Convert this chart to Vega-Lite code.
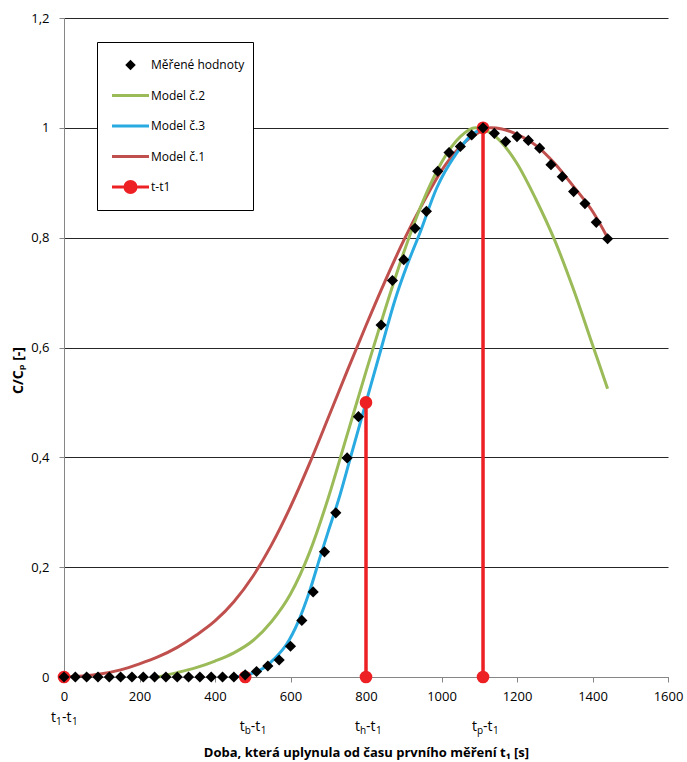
{
  "$schema": "https://vega.github.io/schema/vega-lite/v6.json",
  "width": 604,
  "height": 659,
  "autosize": {"type": "none"},
  "padding": {"left": 64, "top": 18, "right": 19, "bottom": 85},
  "config": {"view": {"stroke": null}, "font": "Open Sans", "text": {"font": "Open Sans"}},
  "datasets": {
    "models": [
      {"series": "Model č.1", "x": 0, "y": 0.0},
      {"series": "Model č.1", "x": 50, "y": 0.002},
      {"series": "Model č.1", "x": 100, "y": 0.006},
      {"series": "Model č.1", "x": 150, "y": 0.013},
      {"series": "Model č.1", "x": 200, "y": 0.024},
      {"series": "Model č.1", "x": 250, "y": 0.037},
      {"series": "Model č.1", "x": 300, "y": 0.054},
      {"series": "Model č.1", "x": 350, "y": 0.076},
      {"series": "Model č.1", "x": 400, "y": 0.102},
      {"series": "Model č.1", "x": 450, "y": 0.137},
      {"series": "Model č.1", "x": 500, "y": 0.183},
      {"series": "Model č.1", "x": 550, "y": 0.241},
      {"series": "Model č.1", "x": 600, "y": 0.31},
      {"series": "Model č.1", "x": 650, "y": 0.388},
      {"series": "Model č.1", "x": 700, "y": 0.472},
      {"series": "Model č.1", "x": 750, "y": 0.557},
      {"series": "Model č.1", "x": 800, "y": 0.64},
      {"series": "Model č.1", "x": 850, "y": 0.72},
      {"series": "Model č.1", "x": 900, "y": 0.795},
      {"series": "Model č.1", "x": 950, "y": 0.862},
      {"series": "Model č.1", "x": 1000, "y": 0.922},
      {"series": "Model č.1", "x": 1050, "y": 0.966},
      {"series": "Model č.1", "x": 1100, "y": 0.992},
      {"series": "Model č.1", "x": 1130, "y": 1.0},
      {"series": "Model č.1", "x": 1160, "y": 0.998},
      {"series": "Model č.1", "x": 1200, "y": 0.988},
      {"series": "Model č.1", "x": 1250, "y": 0.968},
      {"series": "Model č.1", "x": 1300, "y": 0.935},
      {"series": "Model č.1", "x": 1350, "y": 0.893},
      {"series": "Model č.1", "x": 1400, "y": 0.848},
      {"series": "Model č.1", "x": 1440, "y": 0.8},
      {"series": "Model č.2", "x": 250, "y": 0.0},
      {"series": "Model č.2", "x": 275, "y": 0.004},
      {"series": "Model č.2", "x": 300, "y": 0.008},
      {"series": "Model č.2", "x": 350, "y": 0.017},
      {"series": "Model č.2", "x": 400, "y": 0.029},
      {"series": "Model č.2", "x": 450, "y": 0.044},
      {"series": "Model č.2", "x": 500, "y": 0.066},
      {"series": "Model č.2", "x": 550, "y": 0.101},
      {"series": "Model č.2", "x": 600, "y": 0.151},
      {"series": "Model č.2", "x": 650, "y": 0.226},
      {"series": "Model č.2", "x": 700, "y": 0.326},
      {"series": "Model č.2", "x": 750, "y": 0.441},
      {"series": "Model č.2", "x": 800, "y": 0.556},
      {"series": "Model č.2", "x": 850, "y": 0.668},
      {"series": "Model č.2", "x": 900, "y": 0.773},
      {"series": "Model č.2", "x": 950, "y": 0.865},
      {"series": "Model č.2", "x": 1000, "y": 0.937},
      {"series": "Model č.2", "x": 1050, "y": 0.984},
      {"series": "Model č.2", "x": 1090, "y": 1.0},
      {"series": "Model č.2", "x": 1120, "y": 0.995},
      {"series": "Model č.2", "x": 1150, "y": 0.98},
      {"series": "Model č.2", "x": 1200, "y": 0.935},
      {"series": "Model č.2", "x": 1250, "y": 0.87},
      {"series": "Model č.2", "x": 1300, "y": 0.795},
      {"series": "Model č.2", "x": 1350, "y": 0.705},
      {"series": "Model č.2", "x": 1400, "y": 0.605},
      {"series": "Model č.2", "x": 1440, "y": 0.525},
      {"series": "Model č.3", "x": 440, "y": 0.0},
      {"series": "Model č.3", "x": 480, "y": 0.003},
      {"series": "Model č.3", "x": 500, "y": 0.007},
      {"series": "Model č.3", "x": 530, "y": 0.017},
      {"series": "Model č.3", "x": 560, "y": 0.035},
      {"series": "Model č.3", "x": 590, "y": 0.06},
      {"series": "Model č.3", "x": 620, "y": 0.1},
      {"series": "Model č.3", "x": 650, "y": 0.155},
      {"series": "Model č.3", "x": 680, "y": 0.222},
      {"series": "Model č.3", "x": 700, "y": 0.265},
      {"series": "Model č.3", "x": 727, "y": 0.322},
      {"series": "Model č.3", "x": 759, "y": 0.4},
      {"series": "Model č.3", "x": 800, "y": 0.5},
      {"series": "Model č.3", "x": 841, "y": 0.6},
      {"series": "Model č.3", "x": 877, "y": 0.687},
      {"series": "Model č.3", "x": 910, "y": 0.752},
      {"series": "Model č.3", "x": 943, "y": 0.809},
      {"series": "Model č.3", "x": 987, "y": 0.89},
      {"series": "Model č.3", "x": 1040, "y": 0.954},
      {"series": "Model č.3", "x": 1075, "y": 0.984},
      {"series": "Model č.3", "x": 1110, "y": 1.0}
    ],
    "red": [
      {"series": "t-t1", "grp": "a", "x": 0, "y": 0},
      {"series": "t-t1", "grp": "b", "x": 480, "y": 0},
      {"series": "t-t1", "grp": "c", "x": 800, "y": 0},
      {"series": "t-t1", "grp": "c", "x": 800, "y": 0.5},
      {"series": "t-t1", "grp": "d", "x": 1110, "y": 0},
      {"series": "t-t1", "grp": "d", "x": 1110, "y": 1.0}
    ],
    "measured": [
      {"series": "Měřené hodnoty", "x": 0, "y": 0},
      {"series": "Měřené hodnoty", "x": 30, "y": 0},
      {"series": "Měřené hodnoty", "x": 60, "y": 0},
      {"series": "Měřené hodnoty", "x": 90, "y": 0},
      {"series": "Měřené hodnoty", "x": 120, "y": 0},
      {"series": "Měřené hodnoty", "x": 150, "y": 0},
      {"series": "Měřené hodnoty", "x": 180, "y": 0},
      {"series": "Měřené hodnoty", "x": 210, "y": 0},
      {"series": "Měřené hodnoty", "x": 240, "y": 0},
      {"series": "Měřené hodnoty", "x": 270, "y": 0},
      {"series": "Měřené hodnoty", "x": 300, "y": 0},
      {"series": "Měřené hodnoty", "x": 330, "y": 0},
      {"series": "Měřené hodnoty", "x": 360, "y": 0},
      {"series": "Měřené hodnoty", "x": 390, "y": 0},
      {"series": "Měřené hodnoty", "x": 420, "y": 0},
      {"series": "Měřené hodnoty", "x": 450, "y": 0},
      {"series": "Měřené hodnoty", "x": 480, "y": 0.004},
      {"series": "Měřené hodnoty", "x": 510, "y": 0.01},
      {"series": "Měřené hodnoty", "x": 540, "y": 0.02},
      {"series": "Měřené hodnoty", "x": 570, "y": 0.031},
      {"series": "Měřené hodnoty", "x": 600, "y": 0.056},
      {"series": "Měřené hodnoty", "x": 630, "y": 0.103},
      {"series": "Měřené hodnoty", "x": 660, "y": 0.155},
      {"series": "Měřené hodnoty", "x": 690, "y": 0.228},
      {"series": "Měřené hodnoty", "x": 720, "y": 0.299},
      {"series": "Měřené hodnoty", "x": 750, "y": 0.399},
      {"series": "Měřené hodnoty", "x": 780, "y": 0.474},
      {"series": "Měřené hodnoty", "x": 840, "y": 0.641},
      {"series": "Měřené hodnoty", "x": 870, "y": 0.722},
      {"series": "Měřené hodnoty", "x": 900, "y": 0.76},
      {"series": "Měřené hodnoty", "x": 930, "y": 0.817},
      {"series": "Měřené hodnoty", "x": 960, "y": 0.848},
      {"series": "Měřené hodnoty", "x": 990, "y": 0.921},
      {"series": "Měřené hodnoty", "x": 1020, "y": 0.955},
      {"series": "Měřené hodnoty", "x": 1050, "y": 0.966},
      {"series": "Měřené hodnoty", "x": 1080, "y": 0.987},
      {"series": "Měřené hodnoty", "x": 1110, "y": 1.0},
      {"series": "Měřené hodnoty", "x": 1140, "y": 0.99},
      {"series": "Měřené hodnoty", "x": 1170, "y": 0.975},
      {"series": "Měřené hodnoty", "x": 1200, "y": 0.984},
      {"series": "Měřené hodnoty", "x": 1230, "y": 0.977},
      {"series": "Měřené hodnoty", "x": 1260, "y": 0.963},
      {"series": "Měřené hodnoty", "x": 1290, "y": 0.933},
      {"series": "Měřené hodnoty", "x": 1320, "y": 0.911},
      {"series": "Měřené hodnoty", "x": 1350, "y": 0.884},
      {"series": "Měřené hodnoty", "x": 1380, "y": 0.862},
      {"series": "Měřené hodnoty", "x": 1410, "y": 0.828},
      {"series": "Měřené hodnoty", "x": 1440, "y": 0.798}
    ],
    "lab1": [{"x": 0, "s": "1"}],
    "lab2": [{"x": 500, "s": "b"}, {"x": 805, "s": "h"}, {"x": 1115, "s": "p"}]
  },
  "layer": [
    {
      "data": {"name": "models"},
      "mark": {"type": "line", "strokeWidth": 3, "interpolate": "monotone"},
      "encoding": {
        "x": {
          "field": "x", "type": "quantitative",
          "scale": {"domain": [0, 1600], "nice": false, "zero": false},
          "axis": {
            "values": [0, 200, 400, 600, 800, 1000, 1200, 1400, 1600], "format": "d",
            "grid": false, "domainColor": "#868686", "tickColor": "#868686", "tickSize": 5,
            "labelFontSize": 13, "labelColor": "#000", "labelPadding": 8, "labelFlush": false,
            "title": "Doba, která uplynula od času prvního měření t₁ [s]",
            "titleFontSize": 13, "titleFontWeight": "bold", "titleColor": "#000",
            "titleY": 75, "titleBaseline": "middle"
          }
        },
        "y": {
          "field": "y", "type": "quantitative",
          "scale": {"domain": [0, 1.2], "nice": false},
          "axis": {
            "values": [0, 0.2, 0.4, 0.6, 0.8, 1, 1.2],
            "grid": true, "gridColor": "#262626", "gridWidth": 1,
            "domainColor": "#868686", "tickColor": "#868686", "tickSize": 5,
            "labelFontSize": 13, "labelColor": "#000", "labelPadding": 10,
            "labelExpr": "replace(format(datum.value, '.1~f'), '.', ',')",
            "title": "C/Cₚ  [-]", "titleFontSize": 14, "titleFontWeight": "bold", "titleColor": "#000",
            "titleAngle": -90, "titleX": -46, "titleY": 352, "titleAlign": "center", "titleBaseline": "middle"
          }
        },
        "color": {
          "field": "series", "type": "nominal",
          "scale": {
            "domain": ["Měřené hodnoty", "Model č.2", "Model č.3", "Model č.1", "t-t1"],
            "range": ["#000000", "#9BBB59", "#29ABE2", "#C0504D", "#ED2024"]
          },
          "legend": {
            "title": null, "orient": "none", "legendX": 33, "legendY": 24,
            "strokeColor": "#000", "fillColor": "#fff", "padding": 8,
            "symbolType": "stroke", "symbolSize": 1369, "symbolStrokeWidth": 3, "symbolOpacity": 1,
            "clipHeight": 30, "rowPadding": 0.5, "labelOffset": 3,
            "labelFontSize": 12, "labelColor": "#000", "labelFont": "Open Sans",
            "encode": {
              "symbols": {
                "update": {
                  "x": {"value": 25.5},
                  "shape": {"signal": "datum.value === 'Měřené hodnoty' ? 'diamond' : datum.value === 't-t1' ? 'M-1,0H1M-0.3,0A0.3,0.3,0,1,1,0.3,0A0.3,0.3,0,1,1,-0.3,0Z' : 'stroke'"},
                  "size": {"signal": "datum.value === 'Měřené hodnoty' ? 110 : 1369"},
                  "fill": {"signal": "datum.value === 'Měřené hodnoty' ? '#000000' : datum.value === 't-t1' ? '#ED2024' : 'transparent'"},
                  "stroke": {"scale": "color", "field": "value"},
                  "strokeWidth": {"signal": "datum.value === 'Měřené hodnoty' ? 0 : 3"},
                  "opacity": {"value": 1}
                }
              },
              "labels": {
                "update": {
                  "x": {"value": 46}
                }
              }
            }
          }
        }
      }
    },
    {
      "data": {"name": "red"},
      "mark": {"type": "line", "strokeWidth": 3.5},
      "encoding": {
        "x": {"field": "x", "type": "quantitative"},
        "y": {"field": "y", "type": "quantitative"},
        "color": {"field": "series", "type": "nominal"},
        "detail": {"field": "grp", "type": "nominal"}
      }
    },
    {
      "data": {"name": "red"},
      "mark": {"type": "point", "shape": "circle", "filled": true, "size": 160, "opacity": 1},
      "encoding": {
        "x": {"field": "x", "type": "quantitative"},
        "y": {"field": "y", "type": "quantitative"},
        "color": {"field": "series", "type": "nominal"}
      }
    },
    {
      "data": {"name": "measured"},
      "mark": {"type": "point", "shape": "diamond", "filled": true, "size": 125, "opacity": 1},
      "encoding": {
        "x": {"field": "x", "type": "quantitative"},
        "y": {"field": "y", "type": "quantitative"},
        "color": {"field": "series", "type": "nominal"}
      }
    },
    {
      "data": {"name": "lab1"},
      "encoding": {
        "x": {"field": "x", "type": "quantitative"},
        "y": {"datum": -0.075}
      },
      "layer": [
        {"mark": {"type": "text", "text": "t", "align": "right", "baseline": "middle", "dx": -8, "fontSize": 14, "color": "#000"}},
        {"mark": {"type": "text", "align": "left", "baseline": "middle", "dx": -8, "dy": 4, "fontSize": 10, "color": "#000"}, "encoding": {"text": {"field": "s"}}},
        {"mark": {"type": "text", "text": "-t", "align": "left", "baseline": "middle", "dx": -2, "fontSize": 14, "color": "#000"}},
        {"mark": {"type": "text", "text": "1", "align": "left", "baseline": "middle", "dx": 8, "dy": 4, "fontSize": 10, "color": "#000"}}
      ]
    },
    {
      "data": {"name": "lab2"},
      "encoding": {
        "x": {"field": "x", "type": "quantitative"},
        "y": {"datum": -0.091}
      },
      "layer": [
        {"mark": {"type": "text", "text": "t", "align": "right", "baseline": "middle", "dx": -8, "fontSize": 14, "color": "#000"}},
        {"mark": {"type": "text", "align": "left", "baseline": "middle", "dx": -8, "dy": 4, "fontSize": 10, "color": "#000"}, "encoding": {"text": {"field": "s"}}},
        {"mark": {"type": "text", "text": "-t", "align": "left", "baseline": "middle", "dx": -2, "fontSize": 14, "color": "#000"}},
        {"mark": {"type": "text", "text": "1", "align": "left", "baseline": "middle", "dx": 8, "dy": 4, "fontSize": 10, "color": "#000"}}
      ]
    }
  ]
}
